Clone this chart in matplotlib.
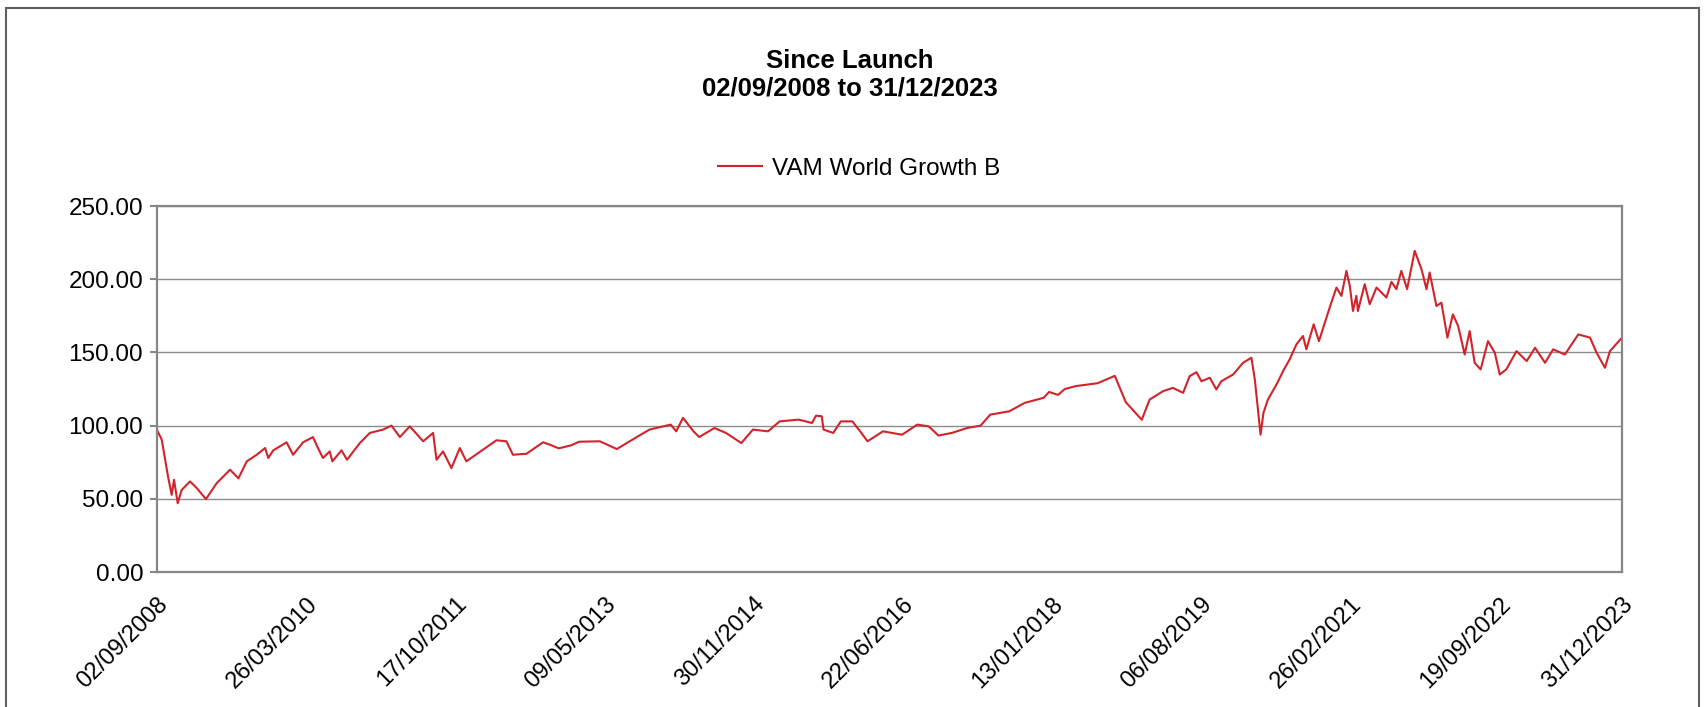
import pandas as pd
import matplotlib
matplotlib.use("Agg")
import matplotlib.pyplot as plt
import matplotlib.dates as mdates
from matplotlib.patches import Rectangle

plt.rcParams['font.family'] = ['Liberation Sans', 'DejaVu Sans']

# Fund price index
dates = [
    "2008-09-02", "2008-09-20", "2008-10-03", "2008-10-14", "2008-10-28", "2008-11-06",
    "2008-11-20", "2008-12-05", "2009-01-06", "2009-02-01", "2009-03-08", "2009-04-18",
    "2009-06-08", "2009-07-10", "2009-08-11", "2009-09-18", "2009-10-20", "2009-11-01",
    "2009-11-20", "2010-01-10", "2010-02-04", "2010-03-14", "2010-04-21", "2010-05-10",
    "2010-05-29", "2010-06-24", "2010-07-04", "2010-08-08", "2010-08-29", "2010-10-17",
    "2010-11-24", "2011-01-14", "2011-02-15", "2011-03-19", "2011-04-26", "2011-06-16",
    "2011-07-24", "2011-08-06", "2011-08-31", "2011-10-02", "2011-11-03", "2011-11-28",
    "2012-01-31", "2012-03-22", "2012-04-29", "2012-05-24", "2012-07-15", "2012-09-16",
    "2012-10-12", "2012-11-15", "2013-01-01", "2013-02-01", "2013-04-21", "2013-06-25",
    "2013-09-14", "2013-10-28", "2014-01-17", "2014-02-07", "2014-03-05", "2014-04-14",
    "2014-05-06", "2014-07-03", "2014-08-16", "2014-10-14", "2014-11-27", "2015-01-24",
    "2015-03-09", "2015-05-21", "2015-07-11", "2015-07-26", "2015-08-17", "2015-08-24",
    "2015-09-30", "2015-10-29", "2015-12-12", "2016-01-11", "2016-02-08", "2016-04-07",
    "2016-06-19", "2016-08-16", "2016-09-29", "2016-11-05", "2016-12-26", "2017-02-23",
    "2017-04-15", "2017-05-22", "2017-08-03", "2017-09-30", "2017-12-12", "2018-01-02",
    "2018-02-05", "2018-03-03", "2018-04-14", "2018-07-07", "2018-09-10", "2018-10-22",
    "2018-12-22", "2019-01-21", "2019-03-13", "2019-04-20", "2019-05-29", "2019-06-23",
    "2019-07-19", "2019-08-07", "2019-09-08", "2019-10-03", "2019-10-22", "2019-12-06",
    "2020-01-13", "2020-02-14", "2020-02-27", "2020-03-06", "2020-03-20", "2020-03-31",
    "2020-04-17", "2020-05-20", "2020-06-14", "2020-07-09", "2020-08-04", "2020-08-29",
    "2020-09-11", "2020-10-09", "2020-10-29", "2020-12-09", "2021-01-04", "2021-01-23",
    "2021-02-11", "2021-02-24", "2021-03-08", "2021-03-21", "2021-03-27", "2021-04-22",
    "2021-05-11", "2021-06-06", "2021-07-14", "2021-08-02", "2021-08-21", "2021-09-09",
    "2021-10-01", "2021-10-30", "2021-11-25", "2021-12-14", "2021-12-26", "2022-01-21",
    "2022-02-09", "2022-03-04", "2022-03-25", "2022-04-14", "2022-05-09", "2022-05-28",
    "2022-06-16", "2022-07-09", "2022-08-06", "2022-09-01", "2022-09-20", "2022-10-15",
    "2022-11-23", "2023-01-01", "2023-02-02", "2023-03-12", "2023-04-12", "2023-05-27",
    "2023-07-17", "2023-08-31", "2023-09-25", "2023-10-27", "2023-11-15", "2023-12-31",
]
prices = [
    97.0, 90.4, 76.7, 65.3, 52.7, 63.0,
    47.0, 56.0, 61.9, 57.3, 49.8, 60.7,
    69.9, 64.0, 75.6, 80.1, 84.7, 77.9,
    83.1, 88.6, 80.1, 88.6, 92.2, 84.7,
    77.9, 82.4, 75.6, 83.1, 76.7, 88.1,
    95.0, 97.3, 100.0, 92.2, 99.5, 89.3,
    95.0, 76.7, 82.4, 71.0, 84.7, 75.6,
    83.6, 90.0, 89.3, 80.1, 80.8, 88.6,
    87.0, 84.5, 86.5, 89.0, 89.3, 84.0,
    92.7, 97.3, 100.7, 96.1, 105.3, 96.1,
    92.2, 98.4, 95.0, 88.1, 97.3, 96.1,
    102.9, 104.1, 101.8, 106.8, 106.4, 97.3,
    95.0, 102.9, 102.9, 96.1, 89.3, 96.1,
    93.8, 100.7, 99.5, 93.2, 95.0, 98.4,
    100.0, 107.5, 109.8, 115.5, 119.0, 123.0,
    121.0, 125.0, 127.0, 129.0, 134.0, 116.0,
    104.0, 117.8, 123.5, 125.8, 122.4, 133.8,
    136.5, 130.3, 132.7, 124.7, 130.3, 134.9,
    142.9, 146.4, 131.5, 117.8, 93.8, 108.7,
    117.8, 128.1, 137.2, 145.2, 155.5, 161.2,
    152.1, 169.2, 157.7, 180.6, 194.3, 188.6,
    205.7, 195.4, 178.3, 188.6, 178.3, 196.6,
    182.9, 194.3, 187.5, 198.2, 193.2, 205.7,
    193.2, 219.4, 206.8, 193.2, 204.6, 181.7,
    184.0, 160.1, 176.0, 168.0, 148.6, 164.6,
    142.9, 138.4, 157.7, 149.8, 134.9, 138.4,
    150.9, 144.1, 153.2, 142.9, 152.1, 148.6,
    162.3, 160.1, 149.8, 139.5, 150.9, 160.1,
]
series_name = "VAM World Growth B"
tick_dates = ["2008-09-02", "2010-03-26", "2011-10-17", "2013-05-09", "2014-11-30",
              "2016-06-22", "2018-01-13", "2019-08-06", "2021-02-26", "2022-09-19",
              "2023-12-31"]
y_ticks = [0, 50, 100, 150, 200, 250]

x = pd.to_datetime(dates)
ticks = pd.to_datetime(tick_dates)

fig = plt.figure(figsize=(17.05, 7.07), dpi=100)
ax = fig.add_axes([0.0921, 0.1909, 0.8592, 0.5177])

ax.plot(x, prices, color="#D2232A", lw=1.5, label=series_name)

ax.set_xlim(ticks[0], ticks[-1])
ax.set_ylim(0, 250)
ax.set_yticks(y_ticks)
ax.yaxis.set_major_formatter(plt.FuncFormatter(lambda v, p: f"{v:.2f}"))
ax.set_xticks(ticks)
ax.xaxis.set_major_formatter(mdates.DateFormatter("%d/%m/%Y"))

ax.yaxis.grid(True, color="#8c8c8c", lw=1.0)
ax.set_axisbelow(True)
for s in ax.spines.values():
    s.set_color("#868686")
    s.set_linewidth(1.6)

ax.tick_params(axis="y", direction="out", length=5, width=1.5, color="#868686",
               labelsize=17.5, pad=5)
ax.tick_params(axis="x", length=0, labelsize=17, pad=15)
plt.setp(ax.get_xticklabels(), rotation=45, ha="right", va="top", rotation_mode="anchor")

fig.text(0.4985, 0.894, "Since Launch\n02/09/2008 to 31/12/2023", ha="center", va="center",
         fontsize=18.5, fontweight="bold", linespacing=1.2)

ax.legend(loc="center", bbox_to_anchor=(0.504, 0.761), bbox_transform=fig.transFigure,
          frameon=False, fontsize=17.5, handlelength=1.8, handletextpad=0.4)

# outer chart frame (bottom edge runs off the picture)
fig.add_artist(Rectangle((6 / 1705, -0.05), 1693 / 1705, 1.05 - 8 / 707,
                         transform=fig.transFigure, fill=False, ec="#606060", lw=1.5))

fig.savefig("out.png", dpi=100)
